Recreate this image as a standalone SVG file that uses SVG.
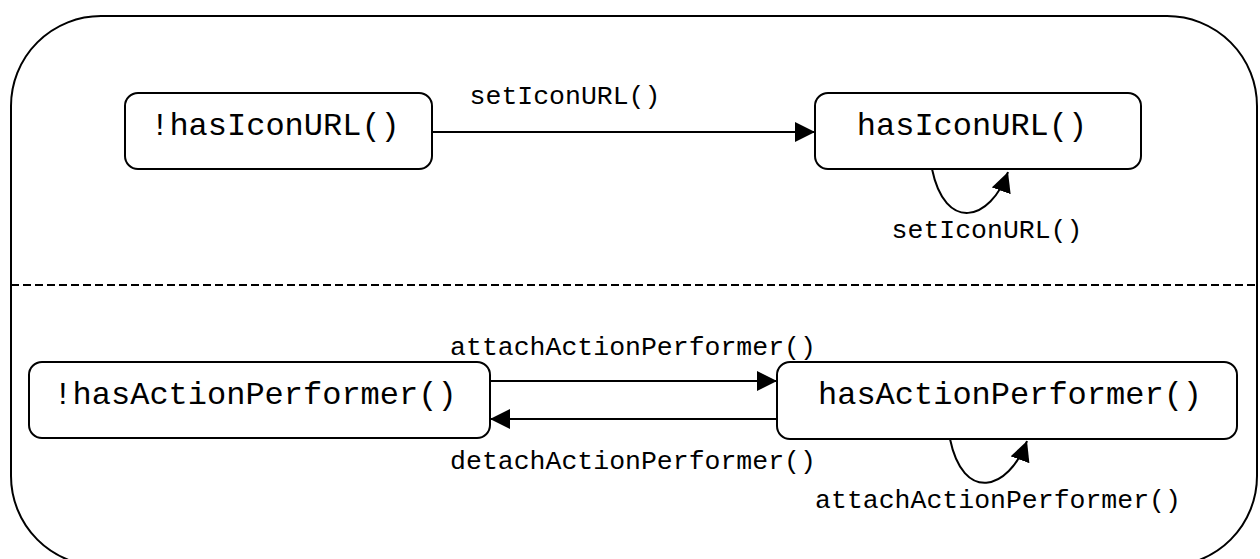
<svg xmlns="http://www.w3.org/2000/svg" width="1260" height="559" viewBox="0 0 1260 559">
<style>
.frame{fill:none;stroke:#000;stroke-width:2}
.node{fill:#fff;stroke:#000;stroke-width:2}
.edge{fill:none;stroke:#000;stroke-width:2}
.big{font-family:"Liberation Mono","Courier New",monospace;font-size:32px;fill:#000;text-anchor:middle}
.lbl{font-family:"Liberation Mono","Courier New",monospace;font-size:26.5px;fill:#000;text-anchor:middle}
</style>
<defs>
<marker id="ah" viewBox="0 0 20 20" refX="20" refY="10" markerWidth="20" markerHeight="20" markerUnits="userSpaceOnUse" orient="auto">
<path d="M0,0 L20,10 L0,20 z" fill="#000"/>
</marker>
</defs>
<rect x="11" y="16" width="1246" height="550" rx="90" ry="90" class="frame"/>
<line x1="11" y1="285" x2="1257" y2="285" stroke="#000" stroke-width="2" stroke-dasharray="8,4"/>
<g id="connectors">
<line x1="432" y1="132" x2="815" y2="132" class="edge" marker-end="url(#ah)"/>
<text x="565" y="104" class="lbl">setIconURL()</text>
<path d="M932 169 C945 232,990 222,1008 172" class="edge" marker-end="url(#ah)"/>
<text x="987" y="238" class="lbl">setIconURL()</text>
<line x1="490" y1="381" x2="777" y2="381" class="edge" marker-end="url(#ah)"/>
<text x="633" y="355" class="lbl">attachActionPerformer()</text>
<line x1="777" y1="419" x2="490" y2="419" class="edge" marker-end="url(#ah)"/>
<text x="633" y="469" class="lbl">detachActionPerformer()</text>
<path d="M950 439 C963 502,1008 492,1027 441" class="edge" marker-end="url(#ah)"/>
<text x="998" y="508" class="lbl">attachActionPerformer()</text>
</g>
<g id="n1">
<rect x="125" y="93" width="307" height="76" rx="13" class="node"/>
<text x="275" y="135" class="big">!hasIconURL()</text>
</g>
<g id="n2">
<rect x="815" y="93" width="326" height="76" rx="13" class="node"/>
<text x="972" y="135" class="big">hasIconURL()</text>
</g>
<g id="n3">
<rect x="29" y="362" width="461" height="76" rx="13" class="node"/>
<text x="255" y="404" class="big">!hasActionPerformer()</text>
</g>
<g id="n4">
<rect x="777" y="362" width="460" height="77" rx="13" class="node"/>
<text x="1010" y="404" class="big">hasActionPerformer()</text>
</g>
</svg>
